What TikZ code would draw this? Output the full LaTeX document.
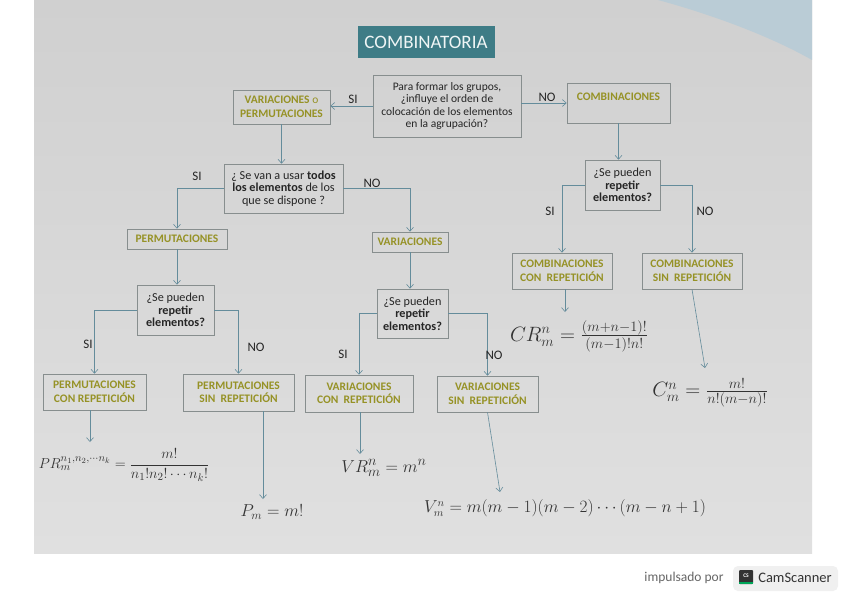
\documentclass[tikz,border=0pt]{standalone}
\usepackage[no-math]{fontspec}
\setmainfont{Carlito}
\usepackage{amsmath}
\usetikzlibrary{arrows.meta,calc}
\definecolor{paper}{RGB}{208,208,208}
\definecolor{paperlo}{RGB}{224,224,224}
\definecolor{olivetxt}{RGB}{150,146,38}
\definecolor{linecol}{RGB}{100,140,155}
\definecolor{boxgray}{RGB}{135,142,142}
\definecolor{titlefill}{RGB}{62,124,134}
\definecolor{bgblue}{RGB}{186,204,214}
\tikzset{
  qbox/.style={draw=boxgray, line width=0.6pt, align=center, inner sep=1pt,
    font=\fontsize{12.2}{12.5}\selectfont, text=black!85},
  cbox/.style={draw=boxgray, line width=0.6pt, align=center, inner sep=1pt,
    font=\fontsize{11.5}{13.5}\selectfont\bfseries, text=olivetxt},
  conn/.style={draw=linecol, line width=0.6pt, -{Straight Barb[length=4pt,width=7pt]}},
  yn/.style={font=\fontsize{13}{14}\selectfont, text=black!85},
  fml/.style={inner sep=0pt, text=black!80},
}
\begin{document}
\begin{tikzpicture}[x=1pt,y=-1pt]
\useasboundingbox (0,0) rectangle (848,599);
\fill[white] (0,0) rectangle (848,599);
% photographed page
\shade[top color=paper, bottom color=paperlo] (34,0) rectangle (812,553);
\fill[bgblue] (658,0) -- (812,0) -- (812,60) .. controls (770,36) and (710,14) .. (658,0) -- cycle;
% title
\node[fill=titlefill, text=white!92!titlefill, minimum width=137, minimum height=32,
  font=\fontsize{19}{21}\selectfont] (title) at (426,42) {COMBINATORIA};
% main question
\node[qbox, minimum width=148, minimum height=62, font=\fontsize{11.5}{12.5}\selectfont] (q1) at (447,106)
  {Para formar los grupos,\\ ¿influye el orden de\\ colocación de los elementos\\ en la agrupación?};
\node[cbox, minimum width=97, minimum height=34] (vop) at (281.5,107) {VARIACIONES {\mdseries o}\\ PERMUTACIONES};
\node[cbox, minimum width=103, minimum height=40, text depth=13pt] (comb) at (618.5,103) {COMBINACIONES};
% second level
\node[qbox, minimum width=119, minimum height=49] (q2) at (283.5,188.5)
  {¿ Se van a usar \textbf{todos}\\ \textbf{los elementos} de los\\ que se dispone ?};
\node[cbox, minimum width=100, minimum height=20] (perm) at (177,239) {PERMUTACIONES};
\node[cbox, minimum width=76, minimum height=20] (var) at (410,242) {VARIACIONES};
\node[qbox, minimum width=75, minimum height=50] (q3) at (622.5,185)
  {¿Se pueden\\ \textbf{repetir}\\ \textbf{elementos?}};
\node[cbox, minimum width=100, minimum height=36] (ccr) at (562,271) {COMBINACIONES\\ CON\ \ REPETICIÓN};
\node[cbox, minimum width=100, minimum height=36] (csr) at (692,271) {COMBINACIONES\\ SIN\ \ REPETICIÓN};
% third level
\node[qbox, minimum width=77, minimum height=50] (q4) at (175.5,310)
  {¿Se pueden\\ \textbf{repetir}\\ \textbf{elementos?}};
\node[cbox, minimum width=103, minimum height=36] (pcr) at (94.5,392) {PERMUTACIONES\\ CON REPETICIÓN};
\node[cbox, minimum width=111, minimum height=37] (psr) at (238.5,392.5) {PERMUTACIONES\\ SIN\ \ REPETICIÓN};
\node[qbox, minimum width=71, minimum height=49] (q5) at (412.5,313.5)
  {¿Se pueden\\ \textbf{repetir}\\ \textbf{elementos?}};
\node[cbox, minimum width=108, minimum height=37] (vcr) at (359,393.5) {VARIACIONES\\ CON\ \ REPETICIÓN};
\node[cbox, minimum width=101, minimum height=36] (vsr) at (487.5,394) {VARIACIONES\\ SIN\ \ REPETICIÓN};
% formulas
\node[fml, font=\fontsize{15.5}{18}\selectfont] (fpr) at (124,465)
  {$PR_m^{n_1,n_2,\cdots n_k}=\dfrac{m!}{n_1!n_2!\cdots n_k!}$};
\node[fml, font=\fontsize{18.5}{20}\selectfont] (fp) at (272,512) {$P_m=m!$};
\node[fml, font=\fontsize{19}{21}\selectfont] (fvr) at (384,468) {$VR_m^n=m^n$};
\node[fml, font=\fontsize{16.3}{19}\selectfont] (fv) at (565,508) {$V_m^n=m(m-1)(m-2)\cdots(m-n+1)$};
\node[fml, font=\fontsize{19.4}{21}\selectfont] (fcr) at (579,336) {$CR_m^n=\frac{(m+n-1)!}{(m-1)!n!}$};
\node[fml, font=\fontsize{21}{23}\selectfont] (fc) at (710,393) {$C_m^n=\frac{m!}{n!(m-n)!}$};
% arrow end points
\coordinate (ecr) at (565,312);
\coordinate (ec) at (705,368);
\coordinate (epr) at (90,442);
\coordinate (ep) at (263,499);
\coordinate (evr) at (360,454);
\coordinate (ev) at (500,492);
% connectors
\draw[conn] (q1.west) -- (vop.east |- q1.west);
\draw[conn] (q1.east |- comb.west) -- (comb.west);
\draw[conn] (vop.south) -- (vop.south |- q2.north);
\draw[conn] (q2.west) -| (perm.north);
\draw[conn] (q2.east) -| (var.north);
\draw[conn] (comb.south) -- (comb.south |- q3.north);
\draw[conn] (q3.west) -| (ccr.north);
\draw[conn] (q3.east) -| (csr.north);
\draw[conn] (ccr.south -| ecr) -- (ecr);
\draw[conn] (csr.south) -- (ec);
\draw[conn] (perm.south) -- (perm.south |- q4.north);
\draw[conn] (q4.west) -| (pcr.north);
\draw[conn] (q4.east) -| (psr.north);
\draw[conn] (pcr.south -| epr) -- (epr);
\draw[conn] (psr.south -| ep) -- (ep);
\draw[conn] (var.south) -- (var.south |- q5.north);
\draw[conn] (q5.west) -| (vcr.north);
\draw[conn] (q5.east) -| (vsr.north);
\draw[conn] (vcr.south -| evr) -- (evr);
\draw[conn] (vsr.south) -- (ev);
% SI / NO labels
\node[yn] (l1) at (353,99) {SI};
\node[yn] (l2) at (547,97) {NO};
\node[yn] (l3) at (197,176) {SI};
\node[yn] (l4) at (372,183) {NO};
\node[yn] (l5) at (550,211) {SI};
\node[yn] (l6) at (705,211) {NO};
\node[yn] (l7) at (88,344) {SI};
\node[yn] (l8) at (256,347) {NO};
\node[yn] (l9) at (343,354) {SI};
\node[yn] (l10) at (494,355) {NO};
% footer
\node[font=\fontsize{13.5}{15}\selectfont, text=black!60] (imp) at (684,578) {impulsado por};
\fill[black!6, rounded corners=5pt] (733,566) rectangle (838,591);
\fill[black!80, rounded corners=1pt] (739,570) rectangle (753,584);
\fill[teal!70!green] (739,582) rectangle (753,584);
\node[font=\fontsize{5.5}{6}\selectfont\bfseries, text=white, inner sep=0pt] (csicon) at (746,576) {CS};
\node[font=\fontsize{14.5}{16}\selectfont, text=black!80] (cam) at (795,578) {CamScanner};
\end{tikzpicture}
\end{document}
